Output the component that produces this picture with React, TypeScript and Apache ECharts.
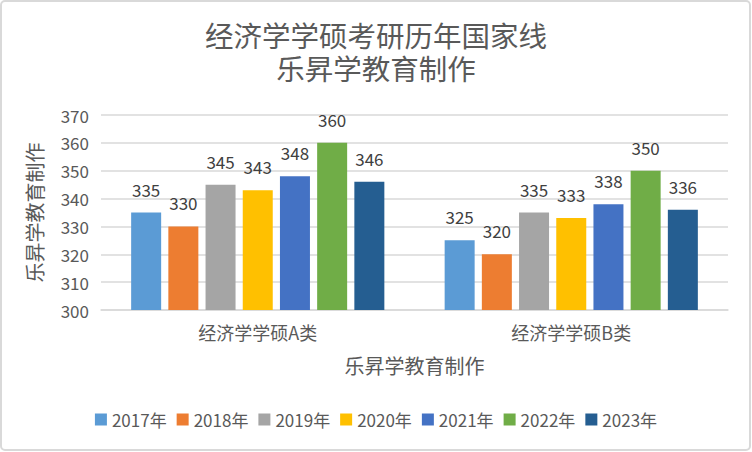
import React, { useEffect, useRef } from "react";
import * as echarts from "echarts";

const categories = ["经济学学硕A类", "经济学学硕B类"];
const years = ["2017年", "2018年", "2019年", "2020年", "2021年", "2022年", "2023年"];
const valuesA = [335, 330, 345, 343, 348, 360, 346];
const valuesB = [325, 320, 335, 333, 338, 350, 336];
const colors = ["#5B9BD5", "#ED7D31", "#A5A5A5", "#FFC000", "#4472C4", "#70AD47", "#255E91"];
const titleLine1 = "经济学学硕考研历年国家线";
const titleLine2 = "乐昇学教育制作";
const axisName = "乐昇学教育制作";

const FONT = "'Noto Sans CJK SC', 'Noto Sans', sans-serif";

export default function App() {
  const ref = useRef<HTMLDivElement>(null);
  useEffect(() => {
    document.body.style.margin = "0";
    const chart = echarts.init(ref.current!, null, { renderer: "svg" });
    const series = years.map((y, i) => ({
      name: y,
      type: "bar",
      data: [valuesA[i], valuesB[i]],
      barWidth: 30,
      barGap: "24%",
      itemStyle: { color: colors[i] },
      label: {
        show: true,
        position: "top",
        distance: 15,
        color: "#404040",
        fontSize: 17,
        fontFamily: FONT,
      },
    }));
    const titleStyle = {
      color: "#595959",
      fontSize: 28.5,
      fontWeight: "normal",
      lineHeight: 28,
      fontFamily: FONT,
    };
    chart.setOption({
      animation: false,
      backgroundColor: "#ffffff",
      color: colors,
      textStyle: { fontFamily: FONT },
      title: [
        { text: titleLine1, left: "center", top: 20, padding: 0, textStyle: titleStyle },
        { text: titleLine2, left: "center", top: 53, padding: 0, textStyle: titleStyle },
      ],
      graphic: [
        {
          type: "rect",
          shape: { x: 1, y: 1, width: 749, height: 449, r: 4 },
          style: { fill: "none", stroke: "#d9d9d9", lineWidth: 2 },
          silent: true,
        },
      ],
      legend: {
        bottom: 19,
        left: "center",
        itemWidth: 12,
        itemHeight: 12,
        itemGap: 10,
        icon: "rect",
        textStyle: { color: "#595959", fontSize: 17, fontFamily: FONT },
        data: years,
      },
      grid: { left: 101, right: 24, top: 115, bottom: 142 },
      xAxis: {
        type: "category",
        data: categories,
        name: axisName,
        nameLocation: "middle",
        nameGap: 45,
        nameTextStyle: { color: "#595959", fontSize: 20, fontFamily: FONT },
        axisLine: { lineStyle: { color: "#d9d9d9", width: 1.5 } },
        axisTick: { show: false },
        axisLabel: { color: "#595959", fontSize: 18, margin: 13, fontFamily: FONT },
      },
      yAxis: {
        type: "value",
        min: 300,
        max: 370,
        interval: 10,
        name: axisName,
        nameLocation: "middle",
        nameRotate: 90,
        nameGap: 57,
        nameTextStyle: { color: "#595959", fontSize: 20, fontFamily: FONT },
        axisLine: { show: false },
        axisTick: { show: false },
        axisLabel: { color: "#595959", fontSize: 17, margin: 12, fontFamily: FONT },
        splitLine: { lineStyle: { color: "#d9d9d9", width: 1.5 } },
      },
      series,
    });
    return () => chart.dispose();
  }, []);
  return <div ref={ref} style={{ width: 752, height: 452 }} />;
}
